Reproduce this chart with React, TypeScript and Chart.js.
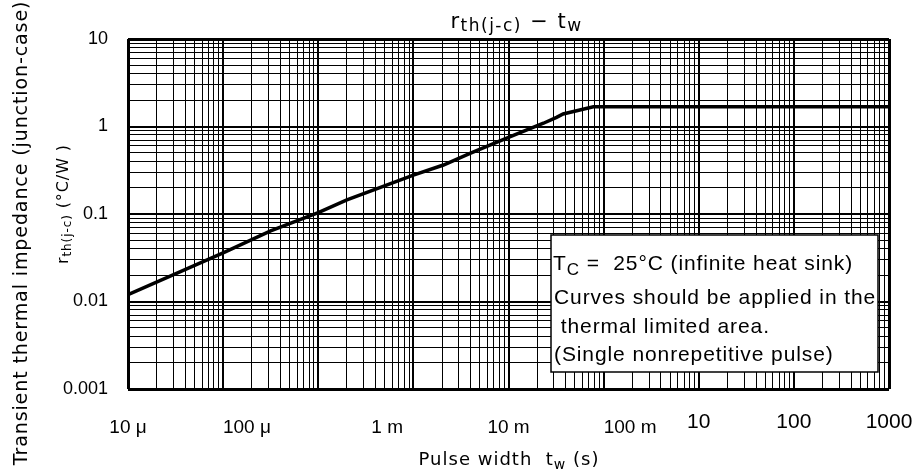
import React, { useEffect, useRef } from 'react';
import { Chart, registerables } from 'chart.js';

Chart.register(...registerables);

// ---- data ----
const pulseWidth = [1e-5, 1e-4, 3.16e-4, 1e-3, 2e-3, 1e-2, 2.07e-2, 3.94e-2, 0.1, 0.233, 0.32, 0.375, 0.78, 1000];
const thermalImpedance = [0.012, 0.036, 0.064, 0.104, 0.145, 0.278, 0.363, 0.494, 0.753, 1.09, 1.27, 1.39, 1.68, 1.68];

const xMin = 1e-5;
const xMax = 1000;
const yMin = 0.001;
const yMax = 10;

const xTickLabels = ['10 μ', '100 μ', '1 m', '10 m', '100 m', '10', '100', '1000'];
const xTickLabelAt = [1e-5, 1.78e-4, 5.3e-3, 0.1, 1.9, 10, 100, 1000];
const yTickLabels = ['0.001', '0.01', '0.1', '1', '10'];
const yTickValues = [0.001, 0.01, 0.1, 1, 10];

const titleParts = [
  { text: 'r', sub: false },
  { text: 'th(j-c)', sub: true },
  { text: ' − t', sub: false },
  { text: 'w', sub: true },
];
const yTitleOuter = 'Transient thermal impedance (junction-case)';
const yTitleInner = [
  { text: 'r', sub: false },
  { text: 'th(j-c)', sub: true },
  { text: ' (°C/W )', sub: false },
];
const xTitleParts = [
  { text: 'Pulse width  t', sub: false },
  { text: 'w', sub: true },
  { text: ' (s)', sub: false },
];
const noteFirstLine = [
  { text: 'T', sub: false },
  { text: 'C', sub: true },
  { text: ' =  25°C (infinite heat sink)', sub: false },
];
const noteLines = ['Curves should be applied in the', ' thermal limited area.', '(Single nonrepetitive pulse)'];

// ---- helpers ----
function logGridTicks(min: number, max: number) {
  const out: { value: number }[] = [];
  const d0 = Math.round(Math.log10(min));
  const d1 = Math.round(Math.log10(max));
  for (let d = d0; d <= d1; d++) {
    for (let k = 1; k <= 9; k++) {
      const v = k * Math.pow(10, d);
      if (v <= max * 1.0000001) out.push({ value: v });
    }
  }
  return out;
}
function isDecade(v: number) {
  const l = Math.log10(v);
  return Math.abs(l - Math.round(l)) < 1e-6;
}

type Seg = { text: string; sub: boolean };
function drawRich(
  ctx: CanvasRenderingContext2D,
  segs: Seg[],
  x: number,
  y: number,
  opts: { rotate?: boolean; family: string; size: number; subSize: number; subDy: number; spacing: number; align?: 'center' | 'left' }
) {
  ctx.save();
  ctx.translate(x, y);
  if (opts.rotate) ctx.rotate(-Math.PI / 2);
  ctx.fillStyle = '#000';
  ctx.textBaseline = 'alphabetic';
  ctx.textAlign = 'left';
  (ctx as any).letterSpacing = opts.spacing + 'px';
  const widths = segs.map((s) => {
    ctx.font = `${s.sub ? opts.subSize : opts.size}px ${opts.family}`;
    return ctx.measureText(s.text).width;
  });
  const total = widths.reduce((a, b) => a + b, 0);
  let cx = opts.align === 'left' ? 0 : -total / 2;
  segs.forEach((s, i) => {
    ctx.font = `${s.sub ? opts.subSize : opts.size}px ${opts.family}`;
    ctx.fillText(s.text, cx, s.sub ? opts.subDy : 0);
    cx += widths[i];
  });
  (ctx as any).letterSpacing = '0px';
  ctx.restore();
}

const textPlugin = {
  id: 'rthTexts',
  afterDatasetsDraw(chart: any) {
    const ctx: CanvasRenderingContext2D = chart.ctx;
    const a = chart.chartArea;
    // note box
    const bx = a.right - 338;
    const by = a.top + 196;
    const bw = 327;
    const bh = 137;
    ctx.save();
    ctx.fillStyle = '#fff';
    ctx.fillRect(bx, by, bw, bh);
    ctx.strokeStyle = '#000';
    ctx.lineWidth = 1.5;
    ctx.strokeRect(bx, by, bw, bh);
    ctx.restore();
    const fam = '"Liberation Sans", Arial, sans-serif';
    drawRich(ctx, noteFirstLine, bx + 2, by + 35, { family: fam, size: 21, subSize: 17, subDy: 5, spacing: 0.9, align: 'left' });
    const baseOffsets = [69, 98, 126];
    noteLines.forEach((line, i) => {
      drawRich(ctx, [{ text: line, sub: false }], bx + 3, by + baseOffsets[i], {
        family: fam, size: 21, subSize: 17, subDy: 0, spacing: 0.9, align: 'left',
      });
    });
  },
  afterDraw(chart: any) {
    const ctx: CanvasRenderingContext2D = chart.ctx;
    const a = chart.chartArea;
    const fam = '"DejaVu Sans", sans-serif';
    // chart title
    drawRich(ctx, titleParts, (a.left + a.right) / 2 + 8, 28, { family: fam, size: 21, subSize: 17, subDy: 3, spacing: 1.5 });
    // y titles
    drawRich(ctx, [{ text: yTitleOuter, sub: false }], 27, 233, { rotate: true, family: fam, size: 19, subSize: 19, subDy: 0, spacing: 0.9 });
    drawRich(ctx, yTitleInner, 68, 204, { rotate: true, family: fam, size: 16, subSize: 12, subDy: 3, spacing: 0.9 });
    // x title
    drawRich(ctx, xTitleParts, 509, 465, { family: fam, size: 18, subSize: 14, subDy: 4, spacing: 1 });
  },
};

export default function App() {
  const ref = useRef<HTMLCanvasElement | null>(null);
  useEffect(() => {
    if (!ref.current) return;
    const gridWidth = (min: number, max: number) => (c: any) => {
      const v = c.tick ? c.tick.value : 0;
      if (Math.abs(v - min) / min < 1e-6 || Math.abs(v - max) / max < 1e-6) return 3;
      return isDecade(v) ? 2 : 1;
    };
    const noPad = (s: any) => { s.paddingLeft = 0; s.paddingRight = 0; };
    const chart = new Chart(ref.current, {
      type: 'line',
      data: {
        datasets: [
          {
            data: pulseWidth.map((x, i) => ({ x, y: thermalImpedance[i] })),
            borderColor: '#000',
            borderWidth: 3.5,
            pointRadius: 0,
            tension: 0,
            fill: false,
            xAxisID: 'x',
            yAxisID: 'y',
          },
        ],
      },
      options: {
        animation: false,
        responsive: false,
        layout: { padding: { top: 39, right: 30, left: 0, bottom: 0 } },
        plugins: { legend: { display: false }, tooltip: { enabled: false }, title: { display: false } },
        scales: {
          x: {
            type: 'logarithmic',
            position: 'bottom',
            min: xMin,
            max: xMax,
            afterBuildTicks: (s: any) => { s.ticks = logGridTicks(xMin, xMax); },
            afterFit: (s: any) => { s.height = 0; noPad(s); },
            ticks: { display: false },
            border: { display: false },
            grid: { color: '#000', lineWidth: gridWidth(xMin, xMax), drawTicks: false },
          },
          xl: {
            type: 'logarithmic',
            position: 'bottom',
            min: xMin,
            max: xMax,
            afterBuildTicks: (s: any) => { s.ticks = xTickLabelAt.map((v) => ({ value: v })); },
            afterFit: (s: any) => { s.height = 86; noPad(s); },
            border: { display: false },
            grid: { display: false, drawTicks: false },
            ticks: {
              autoSkip: false,
              maxRotation: 0,
              minRotation: 0,
              padding: 27,
              color: '#000',
              callback: (_v: any, i: number) => xTickLabels[i],
              font: (c: any) => {
                const lbl = xTickLabels[c.index] || '';
                const numeric = /^[0-9]+$/.test(lbl);
                return numeric
                  ? { family: '"Liberation Sans", Arial, sans-serif', size: 21, lineHeight: 0.57 }
                  : { family: '"Liberation Sans", Arial, sans-serif', size: 19, lineHeight: 1.2 };
              },
            },
          },
          y: {
            type: 'logarithmic',
            position: 'left',
            min: yMin,
            max: yMax,
            afterBuildTicks: (s: any) => { s.ticks = logGridTicks(yMin, yMax); },
            afterFit: (s: any) => { s.width = 128; s.paddingTop = 0; s.paddingBottom = 0; },
            border: { display: false },
            grid: { color: '#000', lineWidth: gridWidth(yMin, yMax), drawTicks: false },
            ticks: {
              autoSkip: false,
              padding: 20,
              color: '#000',
              font: { family: '"Liberation Sans", Arial, sans-serif', size: 18 },
              callback: (v: any) => {
                const idx = yTickValues.findIndex((t) => Math.abs(t - Number(v)) / t < 1e-6);
                return idx >= 0 ? yTickLabels[idx] : '';
              },
            },
          },
        },
      },
      plugins: [textPlugin],
    } as any);
    return () => chart.destroy();
  }, []);
  return (
    <div style={{ position: 'fixed', left: 0, top: 0, width: 919, height: 475, background: '#fff' }}>
      <canvas ref={ref} width={919} height={475} style={{ display: 'block' }} />
    </div>
  );
}
